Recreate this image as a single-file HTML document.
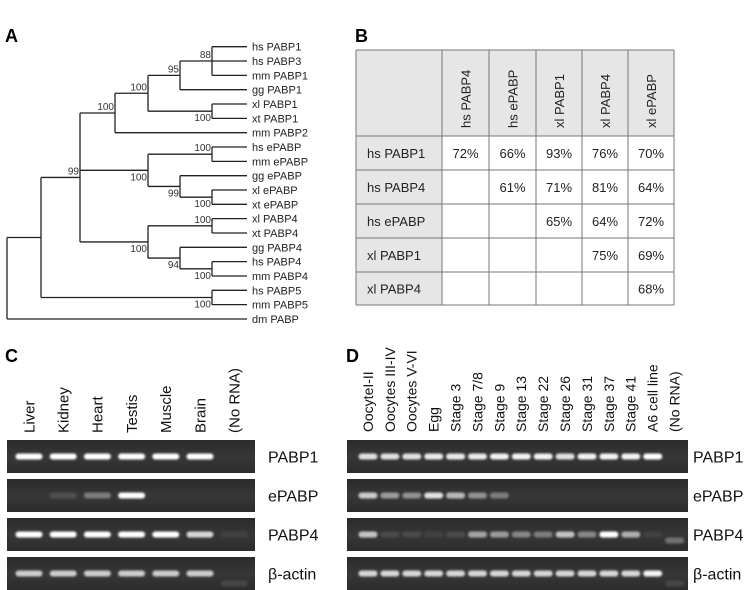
<!DOCTYPE html>
<html><head><meta charset="utf-8"><style>
html,body{margin:0;padding:0;background:#fff}
svg{display:block;font-family:"Liberation Sans",Arial,sans-serif}
</style></head><body>
<svg id="fig" width="755" height="590" viewBox="0 0 755 590">
<defs>
<filter id="glow" x="-30%" y="-200%" width="160%" height="500%"><feGaussianBlur stdDeviation="1.1"/></filter>
<linearGradient id="gelbg" x1="0" y1="0" x2="0" y2="1"><stop offset="0" stop-color="#2a2a2a"/><stop offset="0.5" stop-color="#373737"/><stop offset="1" stop-color="#2c2c2c"/></linearGradient>
</defs>
<text x="5" y="42" font-size="18" font-weight="bold">A</text>
<text x="355" y="42" font-size="18" font-weight="bold">B</text>
<text x="5" y="362" font-size="18" font-weight="bold">C</text>
<text x="346" y="362" font-size="18" font-weight="bold">D</text>
<g id="tree"></g>
<g id="table"></g>
<g id="gelC"></g>
<g id="gelD"></g>
</svg>
<script>
const NS="http://www.w3.org/2000/svg";
function mk(tag,attrs,parent){const e=document.createElementNS(NS,tag);for(const k in attrs)e.setAttribute(k,attrs[k]);parent.appendChild(e);return e;}

// ---------- Tree ----------
const leafNames=["hs PABP1","hs PABP3","mm PABP1","gg PABP1","xl PABP1","xt PABP1","mm PABP2","hs ePABP","mm ePABP","gg ePABP","xl ePABP","xt ePABP","xl PABP4","xt PABP4","gg PABP4","hs PABP4","mm PABP4","hs PABP5","mm PABP5","dm PABP"];
const treeData=[7,[[41,[[80,[[115,[[148,[[180,[[212,[0,1,2],"88","a"],3],"95","a"],[212,[4,5],"100","b"]],"100","a"],6],"100","a"],[148,[[212,[7,8],"100","a"],[180,[9,[212,[10,11],"100","b"]],"99","b"]],"100","b"],[148,[[212,[12,13],"100","a"],[180,[14,[212,[15,16],"100","b"]],"94","b"]],"100","b"]],"99","a"],[212,[17,18],"100","b"]],"",""],19],"",""];
const tree=document.getElementById('tree');
const leafX=247;
function leafY(i){return 46.7+i*14.33;}
for(let i=0;i<leafNames.length;i++){
  const t=mk('text',{x:252,y:leafY(i)+4,'font-size':11,fill:'#222'},tree);
  t.textContent=leafNames[i];
  
  
}
function draw(node){
  const x=node[0],kids=node[1];const ys=[];
  for(const k of kids){
    let cy,cx;
    if(typeof k==='number'){cy=leafY(k);cx=leafX;}else{cy=draw(k);cx=k[0];}
    mk('line',{x1:x,y1:cy,x2:cx,y2:cy,stroke:'#222','stroke-width':1.3},tree);
    ys.push(cy);
  }
  const y0=Math.min(...ys),y1=Math.max(...ys);
  mk('line',{x1:x,y1:y0,x2:x,y2:y1,stroke:'#222','stroke-width':1.3},tree);
  const ym=(y0+y1)/2;
  if(node[2]){
    const t=mk('text',{x:x-1,y:node[3]==='a'?ym-3:ym+10,'font-size':10,fill:'#333','text-anchor':'end'},tree);
    t.textContent=node[2];
    
    
  }
  return ym;
}
draw(treeData);

// ---------- Table ----------
const colHeads=["hs PABP4","hs ePABP","xl PABP1","xl PABP4","xl ePABP"];
const rowHeads=["hs PABP1","hs PABP4","hs ePABP","xl PABP1","xl PABP4"];
const cellVals=[["72%","66%","93%","76%","70%"],["","61%","71%","81%","64%"],["","","65%","64%","72%"],["","","","75%","69%"],["","","","","68%"]];
const tb=document.getElementById('table');
const colX=[356,442,489,536,582,628,674];
const rowY=[50,136,170,204,238,272,305];
mk('rect',{x:356,y:50,width:318,height:86,fill:'#e6e6e6'},tb);
mk('rect',{x:356,y:136,width:86,height:169,fill:'#e6e6e6'},tb);
for(const x of colX)mk('line',{x1:x,y1:50,x2:x,y2:305,stroke:'#777','stroke-width':1},tb);
for(const y of rowY)mk('line',{x1:356,y1:y,x2:674,y2:y,stroke:'#777','stroke-width':1},tb);
colHeads.forEach((h,i)=>{
  const cx=(colX[i+1]+colX[i+2])/2+5;
  const t=mk('text',{x:0,y:0,'font-size':13,fill:'#222',transform:`translate(${cx},128) rotate(-90)`},tb);
  t.textContent=h;
  
  
});
rowHeads.forEach((h,r)=>{
  const t=mk('text',{x:367,y:(rowY[r+1]+rowY[r+2])/2+5,'font-size':13,fill:'#222'},tb);
  t.textContent=h;
  
  
  cellVals[r].forEach((v,c)=>{
    if(!v)return;
    const tt=mk('text',{x:(colX[c+1]+colX[c+2])/2,y:(rowY[r+1]+rowY[r+2])/2+5,'font-size':13,fill:'#222','text-anchor':'middle'},tb);
    tt.textContent=v;
    
    
  });
});

// ---------- Gels ----------
const rowNames=["PABP1","ePABP","PABP4","β-actin"];
const laneC=["Liver","Kidney","Heart","Testis","Muscle","Brain","(No RNA)"];
const intensC=[[1,1,1,1,1,1,0],[0,0.12,0.35,1,0,0,0],[1,1,1,1,1,0.8,0.05],[0.75,0.75,0.75,0.75,0.75,0.75,0.1]];
const laneD=["OocyteI-II","Oocytes III-IV","Oocytes V-VI","Egg","Stage 3","Stage 7/8","Stage 9","Stage 13","Stage 22","Stage 26","Stage 31","Stage 37","Stage 41","A6 cell line","(No RNA)"];
const intensD=[[0.85,0.85,0.85,0.9,0.9,0.9,0.95,0.95,0.95,0.85,0.95,0.95,0.95,1,0],[0.75,0.5,0.45,0.85,0.65,0.45,0.35,0,0,0,0,0,0,0,0],[0.7,0.1,0.1,0.05,0.1,0.55,0.5,0.4,0.35,0.7,0.4,1,0.6,0.05,0.3],[0.8,0.8,0.8,0.8,0.8,0.8,0.8,0.8,0.8,0.8,0.8,0.8,0.8,0.95,0.1]];
const panelY=[440,479,518,557],panelH=[33,33,33,33];
function gel(gid,labels,intens,x0,x1,lane0,laneStep,bandW,labY,fs,labelX){
  const g=document.getElementById(gid);
  labels.forEach((l,i)=>{
    const t=mk('text',{x:0,y:0,'font-size':fs,fill:'#111',transform:`translate(${lane0+i*laneStep+fs*0.35},${labY}) rotate(-90)`},g);
    t.textContent=l;
    
    
  });
  rowNames.forEach((rn,r)=>{
    mk('rect',{x:x0,y:panelY[r],width:x1-x0,height:panelH[r],fill:'url(#gelbg)'},g);
    intens[r].forEach((v,i)=>{
      if(v<=0.02)return;
      const cx=lane0+i*laneStep;
      const last=(i===intens[r].length-1);
      const cy=panelY[r]+panelH[r]/2+(last&&r===3?10:0)+(last&&r===2&&gid==='gelD'?6:0);
      const b=mk('rect',{x:cx-bandW/2,y:cy-3,width:bandW,height:6,rx:3,fill:'#fff',opacity:v,filter:'url(#glow)'},g);
      
      
    });
    const t=mk('text',{x:labelX,y:panelY[r]+panelH[r]/2+6,'font-size':16,fill:'#111'},g);
    t.textContent=rn;
    
    
  });
}
gel('gelC',laneC,intensC,7,255,29,34.2,27,433,15,268);
gel('gelD',laneD,intensD,347,688,368,21.9,19,432,14,693);
</script>
</body></html>
